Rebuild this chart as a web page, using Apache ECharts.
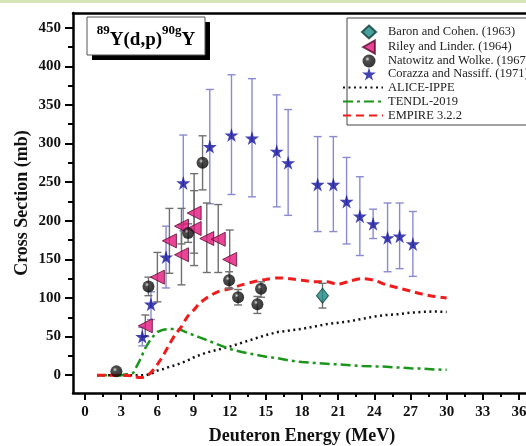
<!DOCTYPE html>
<html><head><meta charset="utf-8">
<script src="https://cdn.jsdelivr.net/npm/echarts@6/dist/echarts.min.js"></script>
<style>html,body{margin:0;padding:0;background:#fff}#c{width:526px;height:446px}</style>
</head><body><div id="c"></div>
<script>
// ---- data ----
const baronE = [19.7];
const baronY = [103];
const baronLo = [87];
const baronHi = [119];

const rileyE = [5.0, 6.0, 7.0, 8.0, 8.0, 9.05, 9.05, 10.1, 11.05, 12.0];
const rileyY = [64, 127, 174, 193, 156, 210, 190, 177, 176, 150];
const rileyLo = [50, 95, 132, 170, 117, 158, 142, 133, 133, 112];
const rileyHi = [78, 159, 216, 216, 195, 261, 239, 223, 221, 188];

const natE = [2.6, 5.26, 8.55, 9.75, 11.95, 12.7, 14.3, 14.6];
const natY = [5, 115, 184, 275, 123, 101, 92, 112];
const natLo = [5, 103, 172, 240, 113, 91, 80, 101];
const natHi = [5, 127, 196, 310, 134, 111, 102, 121];

const corE = [4.75, 5.47, 6.72, 8.15, 10.35, 12.15, 13.85, 15.9, 16.85, 19.3, 20.6, 21.7, 22.8, 23.9, 25.1, 26.1, 27.2];
const corY = [50, 92, 153, 249, 296, 311, 307, 290, 275, 247, 247, 225, 206, 196, 178, 180, 170];
const corLo = [38, 72, 113, 187, 222, 234, 231, 218, 207, 186, 186, 170, 155, 177, 134, 138, 128];
const corHi = [62, 108, 193, 311, 370, 389, 384, 363, 344, 309, 309, 282, 257, 215, 223, 223, 212];

const curveE = [1, 2, 3, 4, 4.5, 5, 5.5, 6, 6.5, 7, 7.5, 8, 8.5, 9, 9.5, 10, 10.5, 11, 12, 13, 14, 15, 16, 17, 18, 19, 20, 21, 22, 23, 24, 25, 26, 27, 28, 29, 30];
const alice = [0, 0, 0, 0, 0, 0, 2, 6, 8, 11, 13, 16, 19, 23, 26, 29, 31, 33, 37, 42, 47, 52, 56, 58, 60, 63, 66, 68, 70, 73, 76, 78, 79, 81, 82, 82.5, 82];
const tendl = [0, 0, 0, 3, 18, 35, 48, 56, 59, 60, 60, 58.5, 55, 52, 49, 46, 43, 40, 34, 30, 27, 24, 22, 19, 17, 16, 15, 14, 13, 12, 11.5, 11, 10, 9, 8.5, 7.5, 7];
const empire = [0, 0, 0, -1, -3, -2, 4, 14, 26, 40, 53, 63, 76, 84, 93, 99, 104, 108, 112, 117, 121, 124, 126, 125, 123, 121, 121, 118, 122, 125, 123, 117, 113, 109, 105, 102, 100];

const xMajor = [0, 3, 6, 9, 12, 15, 18, 21, 24, 27, 30, 33, 36];
const xMinor = [-1.5, 1.5, 4.5, 7.5, 10.5, 13.5, 16.5, 19.5, 22.5, 25.5, 28.5, 31.5, 34.5];
const yMajor = [0, 50, 100, 150, 200, 250, 300, 350, 400, 450];
const yMinor = [-25, 25, 75, 125, 175, 225, 275, 325, 375, 425];

const names = ['Baron and Cohen. (1963)', 'Riley and Linder. (1964)', 'Natowitz and Wolke. (1967)', 'Corazza and Nassiff. (1971)', 'ALICE-IPPE', 'TENDL-2019', 'EMPIRE 3.2.2'];

// ---- helpers ----
const FONT = '"Liberation Serif", "Times New Roman", serif';
const zip = (a, b) => a.map((v, i) => [v, b[i]]);
const star = 'path://M50,0 L61,35 L98,35 L68,57 L79,91 L50,70 L21,91 L32,57 L2,35 L39,35 Z';
const leftTri = 'path://M0,50 L90,0 L90,100 Z';

function errSeries(xs, lo, hi, color) {
  return {
    type: 'custom', silent: true, z: 3,
    data: xs.map((x, i) => [x, lo[i], hi[i]]),
    encode: { x: 0, y: [1, 2] },
    renderItem: function (params, api) {
      const x = api.value(0), l = api.value(1), h = api.value(2);
      if (l === h) return null;
      const p1 = api.coord([x, l]), p2 = api.coord([x, h]);
      const w = 4, st = { stroke: color, lineWidth: 1.4 };
      return { type: 'group', children: [
        { type: 'line', shape: { x1: p1[0], y1: p1[1], x2: p2[0], y2: p2[1] }, style: st },
        { type: 'line', shape: { x1: p1[0] - w, y1: p1[1], x2: p1[0] + w, y2: p1[1] }, style: st },
        { type: 'line', shape: { x1: p2[0] - w, y1: p2[1], x2: p2[0] + w, y2: p2[1] }, style: st }
      ]};
    }
  };
}

const lab = { fontFamily: FONT, fontWeight: 'bold', fontSize: 15, color: '#111' };
const hidden = { show: false };

const chart = echarts.init(document.getElementById('c'), null, { renderer: 'canvas' });
chart.setOption({
  animation: false,
  backgroundColor: '#fff',
  grid: { left: 73, top: 13, right: -5, bottom: 53, containLabel: false, outerBoundsMode: 'none' },
  xAxis: [
    { type: 'value', min: -1, max: 37, position: 'bottom',
      axisLine: { onZero: false, lineStyle: { color: '#000', width: 2.5 } },
      axisTick: { customValues: xMajor, length: 7, lineStyle: { color: '#000', width: 2 } },
      axisLabel: Object.assign({ customValues: xMajor, margin: 12 }, lab),
      splitLine: hidden,
      name: 'Deuteron Energy (MeV)', nameLocation: 'middle', nameGap: 34, nameMoveOverlap: false,
      nameTextStyle: { fontFamily: FONT, fontWeight: 'bold', fontSize: 18, color: '#111' } },
    { type: 'value', min: -1, max: 37, position: 'bottom',
      axisLine: { show: false, onZero: false },
      axisTick: { customValues: xMinor, length: 4, lineStyle: { color: '#000', width: 2 } },
      axisLabel: hidden, splitLine: hidden },
    { type: 'value', min: -1, max: 37, position: 'top',
      axisLine: { onZero: false, lineStyle: { color: '#000', width: 2.5 } },
      axisTick: hidden, axisLabel: hidden, splitLine: hidden }
  ],
  yAxis: [
    { type: 'value', min: -23, max: 469, position: 'left',
      axisLine: { show: true, onZero: false, lineStyle: { color: '#000', width: 2.5 } },
      axisTick: { show: true, customValues: yMajor, length: 8, lineStyle: { color: '#000', width: 2 } },
      axisLabel: Object.assign({ customValues: yMajor, margin: 12 }, lab),
      splitLine: hidden,
      name: 'Cross Section (mb)', nameLocation: 'middle', nameGap: 42, nameMoveOverlap: false,
      nameTextStyle: { fontFamily: FONT, fontWeight: 'bold', fontSize: 18, color: '#111' } },
    { type: 'value', min: -23, max: 469, position: 'left',
      axisLine: { show: false, onZero: false },
      axisTick: { show: true, customValues: yMinor, length: 5, lineStyle: { color: '#000', width: 2 } },
      axisLabel: hidden, splitLine: hidden }
  ],
  legend: [
    { data: names.slice(0, 4), orient: 'vertical', left: 361, top: 24.5, padding: 0,
      itemWidth: 14, itemHeight: 13, itemGap: 0,
      textStyle: { fontFamily: FONT, fontSize: 12.5, color: '#222', lineHeight: 13, padding: [0, 0, 0, 7] } },
    { data: names.slice(4), orient: 'vertical', left: 342, top: 81, padding: 0,
      itemWidth: 40, itemHeight: 13, itemGap: 1,
      itemStyle: { opacity: 0 },
      textStyle: { fontFamily: FONT, fontSize: 12.5, color: '#222', lineHeight: 13 } }
  ],
  graphic: [
    { type: 'rect', left: 0, top: 0, shape: { width: 526, height: 3 }, style: { fill: '#d5e5b8' }, silent: true, z: 0 },
    { type: 'rect', shape: { x: 347, y: 18, width: 200, height: 107 }, style: { fill: '#fff', stroke: '#444', lineWidth: 1 }, z: 1 },
    { type: 'rect', shape: { x: 92, y: 22, width: 118, height: 38 }, style: { fill: '#000' }, z: 5 },
    { type: 'rect', shape: { x: 87, y: 17, width: 118, height: 38 }, style: { fill: '#fff', stroke: '#555', lineWidth: 1 }, z: 6 },
    { type: 'text', x: 146, y: 37, z: 7,
      style: { text: '{s|89}{b|Y(d,p)}{s|90g}{b|Y}', align: 'center', verticalAlign: 'middle',
        rich: {
          s: { fontFamily: FONT, fontWeight: 'bold', fontSize: 13, verticalAlign: 'top', lineHeight: 26, padding: [0, 0, 10, 0] },
          b: { fontFamily: FONT, fontWeight: 'bold', fontSize: 19, verticalAlign: 'bottom', lineHeight: 26 }
        } } }
  ],
  series: [
    { name: 'ALICE-IPPE', type: 'line', data: zip(curveE, alice), showSymbol: false, symbol: 'none', z: 2,
      lineStyle: { color: '#111', width: 2.5, type: [2, 3.5] }, itemStyle: { color: '#111' } },
    { name: 'TENDL-2019', type: 'line', data: zip(curveE, tendl), showSymbol: false, symbol: 'none', z: 2,
      lineStyle: { color: '#1b961b', width: 2.5, type: [10, 4, 3, 4] }, itemStyle: { color: '#1b961b' } },
    { name: 'EMPIRE 3.2.2', type: 'line', data: zip(curveE, empire), showSymbol: false, symbol: 'none', z: 2, smooth: 0.3,
      lineStyle: { color: '#f01c1c', width: 3, type: [8, 5] }, itemStyle: { color: '#f01c1c' } },
    errSeries(corE, corLo, corHi, '#8a8ad2'),
    errSeries(rileyE, rileyLo, rileyHi, '#707070'),
    errSeries(natE, natLo, natHi, '#707070'),
    errSeries(baronE, baronLo, baronHi, '#707070'),
    { name: 'Baron and Cohen. (1963)', type: 'scatter', data: zip(baronE, baronY), symbol: 'diamond', symbolSize: [12, 15], z: 5,
      itemStyle: { color: '#1c8a86', borderColor: '#0b3b39', borderWidth: 1 } },
    { name: 'Riley and Linder. (1964)', type: 'scatter', data: zip(rileyE, rileyY), symbol: leftTri, symbolSize: 14, z: 5,
      itemStyle: { color: '#e3167c', borderColor: '#5a0a30', borderWidth: 1 } },
    { name: 'Natowitz and Wolke. (1967)', type: 'scatter', data: zip(natE, natY), symbol: 'circle', symbolSize: 12, z: 5,
      itemStyle: { color: { type: 'radial', x: 0.38, y: 0.35, r: 0.7, colorStops: [
        { offset: 0, color: '#d8d8d8' }, { offset: 0.25, color: '#222' }, { offset: 1, color: '#000' } ] } } },
    { name: 'Corazza and Nassiff. (1971)', type: 'scatter', data: zip(corE, corY), symbol: star, symbolSize: 14, z: 6,
      itemStyle: { color: '#12129e' } }
  ]
});
</script></body></html>
